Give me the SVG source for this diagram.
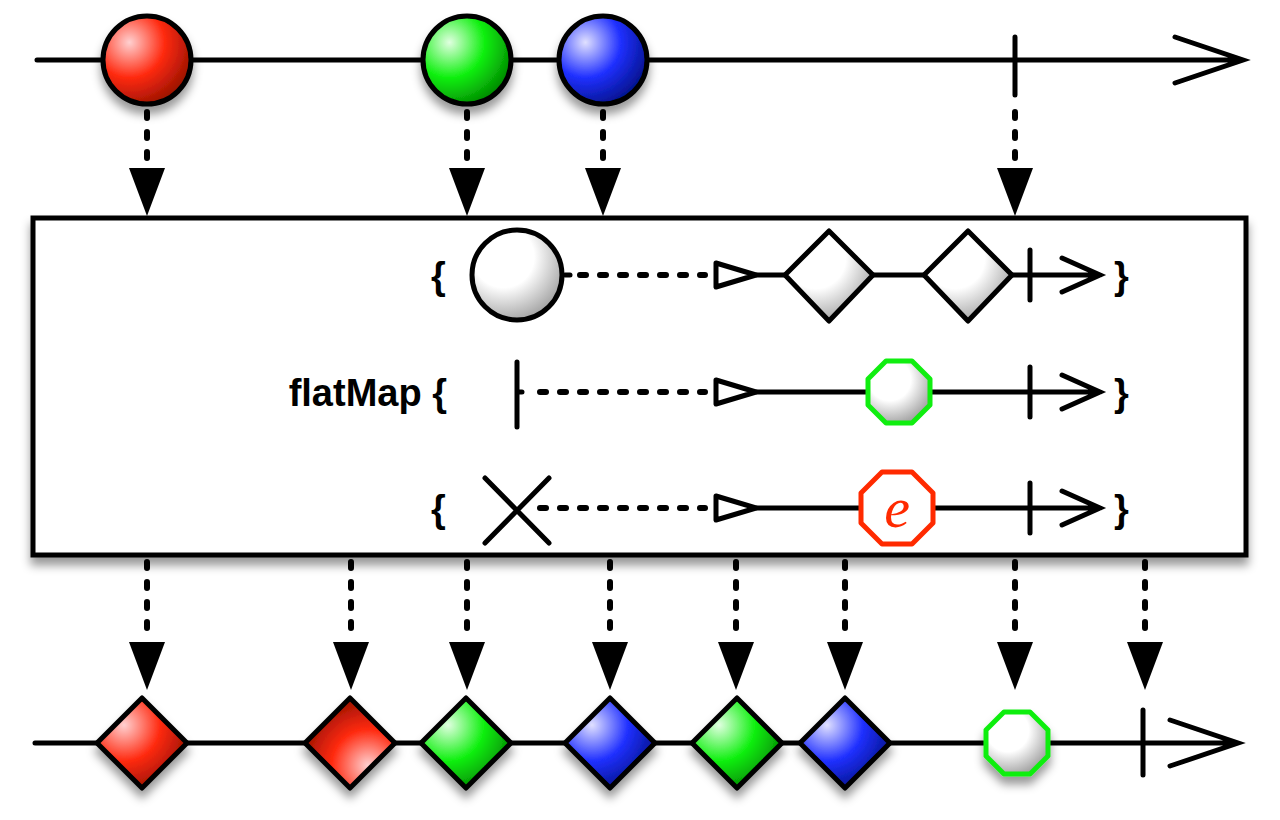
<svg xmlns="http://www.w3.org/2000/svg" width="1280" height="820" viewBox="0 0 1280 820">
<style>
.ln{stroke:#000;stroke-width:5;fill:none;stroke-linecap:round}
.dot{stroke:#000;stroke-width:6;fill:none;stroke-dasharray:6 14;stroke-linecap:round}
.th{fill:#000}
.sh{stroke:#000;stroke-width:5;stroke-linejoin:round}
.br{font-family:"Liberation Sans",Arial,sans-serif;font-weight:bold;font-size:38px}
</style>
<defs>
<filter id="ds" x="-30%" y="-30%" width="160%" height="170%"><feDropShadow dx="0" dy="8" stdDeviation="5" flood-color="#000" flood-opacity="0.4"/></filter>
<radialGradient id="gr" cx="0.3" cy="0.3" r="0.8"><stop offset="0" stop-color="#ffd0d0"/><stop offset="0.5" stop-color="#ff2a10"/><stop offset="1" stop-color="#901000"/></radialGradient>
<radialGradient id="gr2" cx="0.7" cy="0.75" r="0.8"><stop offset="0" stop-color="#ffd0d0"/><stop offset="0.5" stop-color="#ff2a10"/><stop offset="1" stop-color="#901000"/></radialGradient>
<radialGradient id="gg" cx="0.3" cy="0.3" r="0.8"><stop offset="0" stop-color="#e0ffe0"/><stop offset="0.5" stop-color="#10f010"/><stop offset="1" stop-color="#008000"/></radialGradient>
<radialGradient id="gb" cx="0.3" cy="0.3" r="0.8"><stop offset="0" stop-color="#e0e0ff"/><stop offset="0.5" stop-color="#2030ff"/><stop offset="1" stop-color="#001080"/></radialGradient>
<radialGradient id="gw" cx="0.35" cy="0.3" r="0.85"><stop offset="0.4" stop-color="#fff"/><stop offset="1" stop-color="#888"/></radialGradient>
<polygon id="dn" class="th" points="-18,0 18,0 0,48"/>
<polygon id="tri" points="0,-12 40,0 0,12" fill="#fff" stroke="#000" stroke-width="5" stroke-linejoin="round"/>
<polygon id="oct" points="-13,-31 13,-31 31,-13 31,13 13,31 -13,31 -31,13 -31,-13" stroke-width="5" stroke-linejoin="round"/>
<polygon id="dia" points="0,-45 45,0 0,45 -45,0"/>
</defs>
<g id="connectors">
<path class="dot" d="M147,112V160M467,112V160M603,112V160M1015,112V160"/>
<use href="#dn" x="147" y="168"/><use href="#dn" x="467" y="168"/><use href="#dn" x="603" y="168"/><use href="#dn" x="1015" y="168"/>
<path class="dot" d="M147,562V630M351,562V630M467,562V630M610,562V630M736,562V630M845,562V630M1015,562V630M1145,562V630"/>
<use href="#dn" x="147" y="642"/><use href="#dn" x="351" y="642"/><use href="#dn" x="467" y="642"/><use href="#dn" x="610" y="642"/><use href="#dn" x="736" y="642"/><use href="#dn" x="845" y="642"/><use href="#dn" x="1015" y="642"/><use href="#dn" x="1145" y="642"/>
</g>
<g id="top-line">
<path class="ln" d="M37,60H1243M1175,37L1243,60L1175,83M1015,37V95"/>
</g>
<g id="top-red" filter="url(#ds)"><circle cx="147" cy="60" r="44" fill="url(#gr)" class="sh"/></g>
<g id="top-green" filter="url(#ds)"><circle cx="467" cy="60" r="44" fill="url(#gg)" class="sh"/></g>
<g id="top-blue" filter="url(#ds)"><circle cx="603" cy="60" r="44" fill="url(#gb)" class="sh"/></g>
<g id="operator">
<rect x="33" y="218" width="1213" height="337" fill="#fff" stroke="#000" stroke-width="5" filter="url(#ds)"/>
<text class="br" x="431" y="289">{</text><text class="br" x="1114" y="289">}</text>
<text class="br" x="447" y="406" text-anchor="end">flatMap {</text><text class="br" x="1114" y="406">}</text>
<text class="br" x="431" y="522">{</text><text class="br" x="1114" y="522">}</text>
<!-- row1 -->
<path class="dot" d="M580,275H705"/><path class="ln" d="M565,275H570"/>
<use href="#tri" x="716" y="275"/>
<path class="ln" d="M757,275H785M873,275H925M1012,275H1100M1030,250V300M1062,258L1100,275L1062,292"/>
<circle cx="517" cy="275" r="45" fill="url(#gw)" class="sh"/>
<polygon points="829,231 873,275 829,321 785,275" fill="url(#gw)" class="sh"/>
<polygon points="968,231 1012,275 968,321 924,275" fill="url(#gw)" class="sh"/>
<!-- row2 -->
<path class="ln" d="M517,362V427M517,392H522"/><path class="dot" d="M540,392H705"/>
<use href="#tri" x="716" y="392"/>
<path class="ln" d="M757,392H1100M1030,367V417M1062,375L1100,392L1062,409"/>
<use href="#oct" x="899" y="392" fill="url(#gw)" stroke="#10ee10"/>
<!-- row3 -->
<path class="ln" d="M485,478L549,543M549,478L485,543"/><path class="dot" d="M540,508H705"/>
<use href="#tri" x="716" y="508"/>
<path class="ln" d="M757,508H1100M1030,483V533M1062,491L1100,508L1062,525"/>
<polygon points="882,472 912,472 933,493 933,523 912,544 882,544 861,523 861,493" fill="#fff" stroke="#ff2a00" stroke-width="5" stroke-linejoin="round"/>
<text x="897" y="527" text-anchor="middle" font-family="Liberation Serif,serif" font-style="italic" font-size="58" fill="#ff2a00">e</text>
</g>
<g id="bottom-line">
<path class="ln" d="M35,743H1238M1170,720L1238,743L1170,766M1143,710V775"/>
</g>
<g id="b1" filter="url(#ds)"><use href="#dia" x="142" y="743" fill="url(#gr)" class="sh"/></g>
<g id="b2" filter="url(#ds)"><use href="#dia" x="350" y="743" fill="url(#gr2)" class="sh"/></g>
<g id="b3" filter="url(#ds)"><use href="#dia" x="466" y="743" fill="url(#gg)" class="sh"/></g>
<g id="b4" filter="url(#ds)"><use href="#dia" x="610" y="743" fill="url(#gb)" class="sh"/></g>
<g id="b5" filter="url(#ds)"><use href="#dia" x="737" y="743" fill="url(#gg)" class="sh"/></g>
<g id="b6" filter="url(#ds)"><use href="#dia" x="845" y="743" fill="url(#gb)" class="sh"/></g>
<g id="b7" filter="url(#ds)"><use href="#oct" x="1017" y="743" fill="url(#gw)" stroke="#10ee10"/></g>
</svg>
